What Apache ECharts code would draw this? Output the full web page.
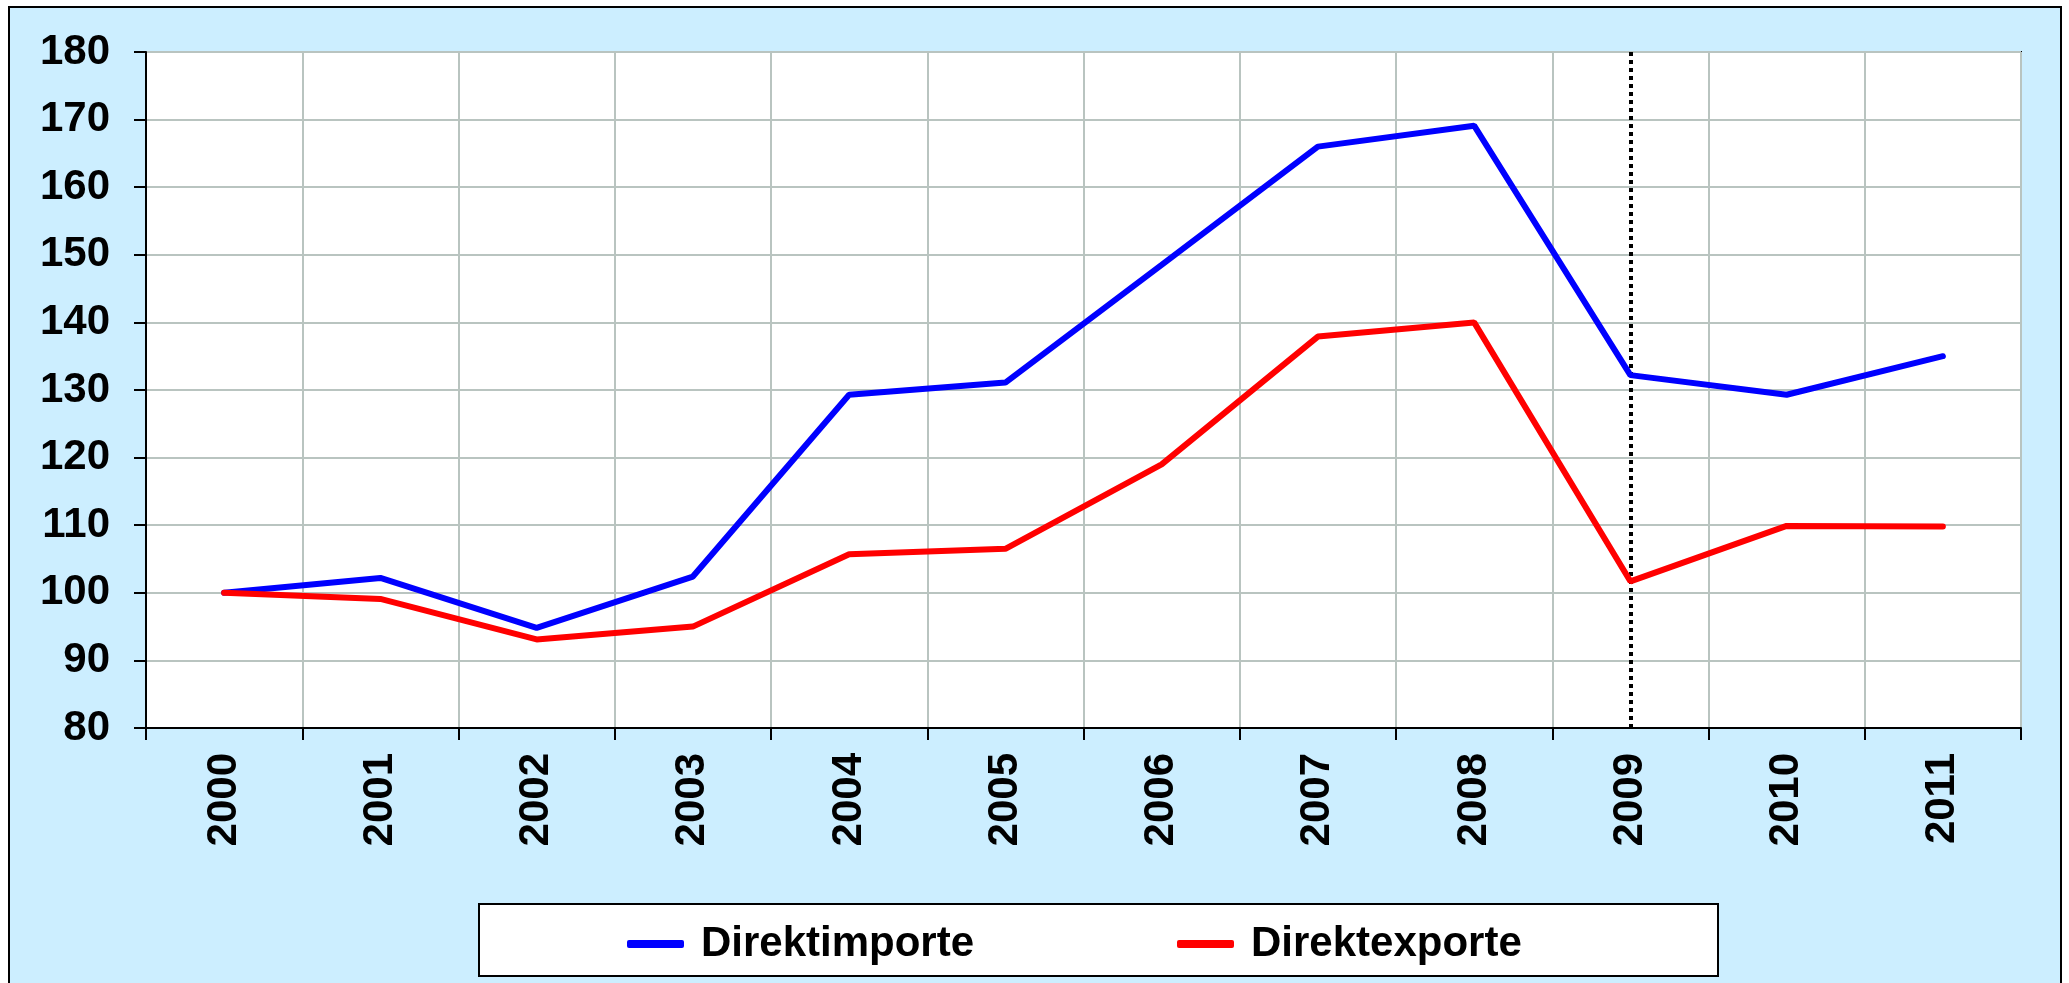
<!DOCTYPE html>
<html>
<head>
<meta charset="utf-8">
<script src="https://cdn.jsdelivr.net/npm/echarts@6/dist/echarts.min.js"></script>
<style>
  html, body { margin: 0; padding: 0; background: #fff; }
  #chart { width: 2069px; height: 983px; }
</style>
</head>
<body>
<div id="chart"></div>
<script>
// Jahre und Indexwerte (2000 = 100)
var years = ['2000', '2001', '2002', '2003', '2004', '2005', '2006', '2007', '2008', '2009', '2010', '2011'];
var direktimporte = [100, 102.2, 94.8, 102.4, 129.3, 131.1, 148.5, 166.0, 169.1, 132.2, 129.3, 135.0];
var direktexporte = [100, 99.1, 93.1, 95.0, 105.7, 106.5, 119.0, 137.9, 140.0, 101.7, 109.9, 109.8];
var markYear = '2009';

var myChart = echarts.init(document.getElementById('chart'));
var font = '"Liberation Sans", Arial, sans-serif';

var legendText = {
    fontFamily: font,
    fontWeight: 'bold',
    fontSize: 42,
    color: '#000',
    lineHeight: 48,
    padding: [0, 0, 0, 12]
};

var option = {
    animation: false,
    backgroundColor: '#fff',
    graphic: [
        {
            type: 'rect', z: -10,
            shape: { x: 9, y: 7, width: 2052, height: 1000 },
            style: { fill: '#cceeff', stroke: '#000', lineWidth: 2 }
        },
        {
            type: 'rect', z: -5,
            shape: { x: 479, y: 904, width: 1239, height: 72 },
            style: { fill: '#fff', stroke: '#000', lineWidth: 2 }
        }
    ],
    grid: {
        left: 146, top: 52, width: 1875, height: 676,
        show: true,
        backgroundColor: '#fff',
        borderColor: '#000',
        borderWidth: 2
    },
    legend: [
        {
            data: ['Direktimporte'],
            left: 622, top: 915,
            icon: 'roundRect', itemWidth: 57, itemHeight: 8,
            textStyle: legendText
        },
        {
            data: ['Direktexporte'],
            left: 1172, top: 915,
            icon: 'roundRect', itemWidth: 57, itemHeight: 8,
            textStyle: legendText
        }
    ],
    xAxis: {
        type: 'category',
        data: years,
        boundaryGap: true,
        axisLine: { lineStyle: { color: '#000', width: 2 } },
        axisTick: { show: true, length: 12, lineStyle: { color: '#000', width: 2 } },
        splitLine: { show: true, lineStyle: { color: '#b9c4c0', width: 2 } },
        axisLabel: {
            rotate: 90,
            margin: 25,
            fontFamily: font,
            fontWeight: 'bold',
            fontSize: 42,
            color: '#000'
        }
    },
    yAxis: {
        type: 'value',
        min: 80, max: 180, interval: 10,
        axisLine: { show: true, lineStyle: { color: '#000', width: 2 } },
        axisTick: { show: true, length: 12, lineStyle: { color: '#000', width: 2 } },
        splitLine: { show: true, lineStyle: { color: '#b9c4c0', width: 2 } },
        axisLabel: {
            margin: 36,
            fontFamily: font,
            fontWeight: 'bold',
            fontSize: 42,
            color: '#000'
        }
    },
    series: [
        {
            name: 'Direktimporte',
            type: 'line',
            data: direktimporte,
            showSymbol: false,
            color: '#0000ff',
            lineStyle: { color: '#0000ff', width: 6, cap: 'round' },
            z: 3
        },
        {
            name: 'Direktexporte',
            type: 'line',
            data: direktexporte,
            showSymbol: false,
            color: '#ff0000',
            lineStyle: { color: '#ff0000', width: 6, cap: 'round' },
            z: 3,
            markLine: {
                silent: true,
                symbol: ['none', 'none'],
                label: { show: false },
                lineStyle: { color: '#000', width: 4, type: [4, 4] },
                data: [{ xAxis: markYear }],
                z: 2
            }
        }
    ]
};

myChart.setOption(option);
</script>
</body>
</html>
